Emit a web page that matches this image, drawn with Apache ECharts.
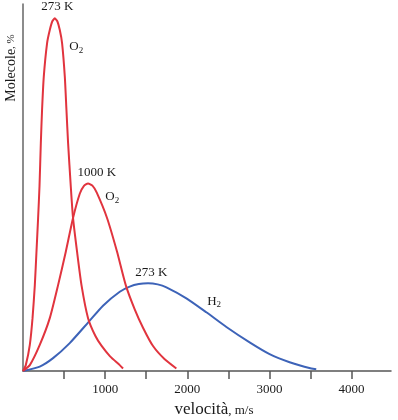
<!DOCTYPE html>
<html>
<head>
<meta charset="utf-8">
<script src="https://cdn.jsdelivr.net/npm/echarts@6/dist/echarts.min.js"></script>
<style>
  html, body { margin: 0; padding: 0; background: #ffffff; }
  #main { width: 398px; height: 420px; }
</style>
</head>
<body>
<div id="main"></div>
<script>
// velocità (m/s) e quota di molecole (scala arbitraria 0-100)
var o2ColdSpeed = [0, 34, 83, 116, 144, 164, 184, 201, 217, 232, 253, 293, 326, 357, 387, 418, 448, 476, 509, 529, 549, 582, 609, 658, 712, 792, 880, 955, 1060, 1178, 1218];
var o2ColdShare = [0, 1.6, 7.1, 14.4, 23.4, 32.5, 41.7, 50.4, 62.1, 71.1, 80.2, 89.3, 92.9, 95.3, 96.1, 95.3, 92.9, 89.3, 80.2, 71.1, 62.1, 50.2, 41.7, 32.5, 23.4, 14.4, 9.6, 6.9, 4.0, 1.6, 0.7];

var o2HotSpeed = [0, 83, 204, 326, 427, 521, 609, 691, 740, 792, 845, 898, 1023, 1145, 1251, 1360, 1461, 1583, 1725, 1867];
var o2HotShare = [0, 1.6, 7.1, 14.4, 23.4, 32.5, 41.7, 48.3, 50.4, 51.1, 50.5, 48.6, 41.7, 32.5, 23.4, 16.8, 11.8, 6.8, 3.2, 0.7];

var h2Speed = [0, 204, 366, 569, 792, 974, 1178, 1299, 1410, 1522, 1640, 1746, 1989, 2232, 2476, 2759, 3002, 3246, 3510, 3570];
var h2Share = [0, 1.2, 3.5, 7.6, 13.2, 17.8, 21.6, 23.0, 23.7, 23.9, 23.6, 22.8, 19.8, 16.0, 12.0, 7.8, 4.6, 2.4, 0.7, 0.5];

var tickValues = [500, 1000, 1500, 2000, 2500, 3000, 3500, 4000];
var labelValues = [1000, 2000, 3000, 4000];

function pairs(xs, ys) {
  return xs.map(function (x, i) { return [x, ys[i]]; });
}

var serif = "Liberation Serif";
var red = "#e1343e";
var blue = "#3d63b8";

var noteRich = {
  n: { fontSize: 13, fontFamily: serif, color: "#1a1a1a" },
  s: { fontSize: 9, fontFamily: serif, color: "#1a1a1a", padding: [7, 0, 0, 0] },
};

function notes(list) {
  return {
    symbol: "circle",
    symbolSize: 1,
    itemStyle: { color: "rgba(0,0,0,0)" },
    label: {
      show: true,
      position: "inside",
      formatter: function (p) { return p.name; },
      rich: noteRich,
    },
    data: list,
  };
}

function curve(name, color, xs, ys, marks) {
  return {
    name: name,
    type: "line",
    smooth: 0.2,
    symbol: "none",
    lineStyle: { color: color, width: 2 },
    data: pairs(xs, ys),
    markPoint: notes(marks),
  };
}

var myChart = echarts.init(document.getElementById("main"));

myChart.setOption({
  backgroundColor: "#ffffff",
  animation: false,
  grid: { left: 23, right: 7, top: 4, bottom: 49, outerBoundsMode: "none" },
  xAxis: {
    type: "value",
    min: 0,
    max: 4480,
    name: "{a|velocità}{b|, m/s}",
    nameLocation: "middle",
    nameGap: 28,
    nameTextStyle: {
      padding: [0, 0, 0, 14],
      rich: {
        a: { fontSize: 17, fontFamily: serif, color: "#1a1a1a" },
        b: { fontSize: 13, fontFamily: serif, color: "#1a1a1a", padding: [3, 0, 0, 0] },
      },
    },
    axisLine: { lineStyle: { color: "#555555", width: 1.5 } },
    axisTick: {
      customValues: tickValues,
      length: 8,
      lineStyle: { color: "#555555", width: 1.5 },
    },
    axisLabel: {
      customValues: labelValues,
      formatter: function (v) { return String(v); },
      margin: 12,
      fontSize: 13,
      fontFamily: serif,
      color: "#1a1a1a",
    },
    splitLine: { show: false },
  },
  yAxis: {
    type: "value",
    min: 0,
    max: 100,
    axisLine: { show: true, lineStyle: { color: "#666666", width: 1.5 } },
    axisTick: { show: false },
    axisLabel: { show: false },
    splitLine: { show: false },
  },
  graphic: [
    {
      type: "text",
      x: 11,
      y: 68,
      rotation: Math.PI / 2,
      style: {
        text: "{a|Molecole}{b|, %}",
        align: "center",
        verticalAlign: "middle",
        rich: {
          a: { fontSize: 14, fontFamily: serif, fill: "#1a1a1a" },
          b: { fontSize: 11, fontFamily: serif, fill: "#1a1a1a" },
        },
      },
    },
  ],
  series: [
    curve("H2 273 K", blue, h2Speed, h2Share, [
      { name: "{n|273 K}", coord: [1561, 26.8] },
      { name: "{n|H}{s|2}", coord: [2327, 18.9] },
    ]),
    curve("O2 1000 K", red, o2HotSpeed, o2HotShare, [
      { name: "{n|1000 K}", coord: [898, 54] },
      { name: "{n|O}{s|2}", coord: [1086, 47.5] },
    ]),
    curve("O2 273 K", red, o2ColdSpeed, o2ColdShare, [
      { name: "{n|273 K}", coord: [417, 99.3] },
      { name: "{n|O}{s|2}", coord: [648, 88.3] },
    ]),
  ],
});
</script>
</body>
</html>
